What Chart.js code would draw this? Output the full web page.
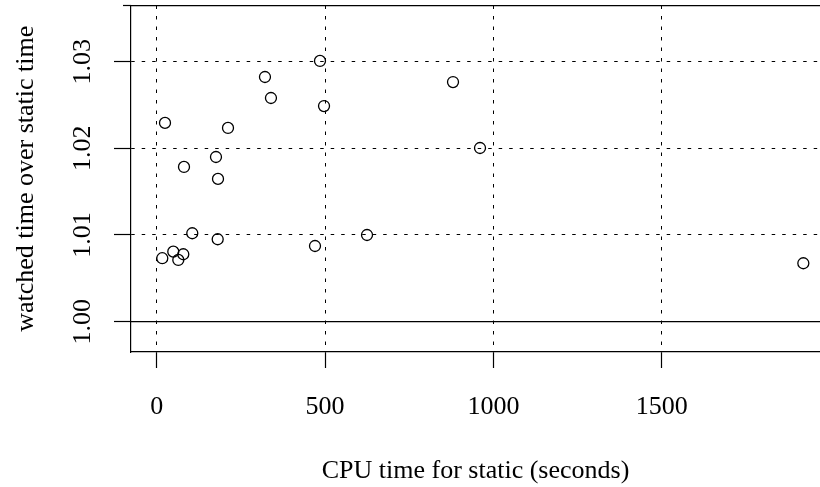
<!DOCTYPE html>
<html>
<head>
<meta charset="utf-8">
<script src="https://cdn.jsdelivr.net/npm/chart.js@4/dist/chart.umd.min.js"></script>
<style>
html,body{margin:0;padding:0;background:#fff}
canvas{display:block}
</style>
</head>
<body>
<canvas id="c" width="820" height="487"></canvas>
<script>
// ---- data ----
const cpuTime = [24.7, 211.8, 176.1, 81.1, 182.1, 105.7, 181.2, 16.6, 49.3, 79.0, 64.2,
                 485.0, 321.6, 339.4, 497.0, 624.7, 470.2, 880.1, 960.3, 1920.6];
const ratio   = [1.02293, 1.02235, 1.01900, 1.01785, 1.01647, 1.01020, 1.00951, 1.00732, 1.00808, 1.00778, 1.00712,
                 1.03008, 1.02823, 1.02581, 1.02488, 1.01000, 1.00873, 1.02765, 1.02004, 1.00674];
const xTicks = [0, 500, 1000, 1500];
const yTicks = [1.00, 1.01, 1.02, 1.03];
const refLevel = 1.0;
const xRange = [-76.3, 1970.1];
const yRange = [0.99650, 1.03648];
const xTitle = 'CPU time for static (seconds)';
const yTitle = 'watched time over static time';

// ---- chart ----
const points = cpuTime.map((x, i) => ({x: x, y: ratio[i]}));
const FONT = {family: '"Liberation Serif", "Times New Roman", serif', size: 26};
const INK = '#000';

const topStub = {
  id: 'topStub',
  afterDraw(chart) {
    const {ctx, chartArea: a} = chart;
    ctx.save();
    ctx.strokeStyle = INK;
    ctx.lineWidth = 1.2;
    ctx.beginPath();
    ctx.moveTo(a.left - 8, a.top);
    ctx.lineTo(a.left, a.top);
    ctx.stroke();
    ctx.restore();
  }
};

new Chart(document.getElementById('c'), {
  type: 'scatter',
  data: {
    datasets: [
      {
        type: 'line',
        showLine: true,
        data: [{x: xRange[0], y: refLevel}, {x: xRange[1], y: refLevel}],
        borderColor: INK,
        borderWidth: 1.2,
        pointRadius: 0,
        fill: false,
        order: 2
      },
      {
        data: points,
        pointStyle: 'circle',
        pointRadius: 5.5,
        borderWidth: 1.3,
        borderColor: INK,
        backgroundColor: 'rgba(0,0,0,0)',
        order: 1
      }
    ]
  },
  options: {
    responsive: false,
    animation: false,
    events: [],
    layout: {autoPadding: false, padding: {top: 5.5, left: 0, right: 0, bottom: 0}},
    plugins: {legend: {display: false}, tooltip: {enabled: false}},
    scales: {
      x: {
        type: 'linear',
        position: 'bottom',
        min: xRange[0],
        max: xRange[1],
        afterBuildTicks: s => { s.ticks = xTicks.map(v => ({value: v})); },
        afterFit: s => { s.height = 135; s.paddingLeft = 0; s.paddingRight = 0; },
        ticks: {autoSkip: false, maxRotation: 0, minRotation: 0, padding: 23.6, color: INK, font: FONT,
                callback: v => String(v)},
        grid: {color: INK, lineWidth: 1, drawTicks: true, tickLength: 16, tickColor: INK, tickWidth: 1.2, tickBorderDash: []},
        border: {display: true, color: INK, width: 1.2, dash: [3.5, 7]},
        title: {display: true, text: xTitle, color: INK, font: FONT, padding: {top: 0, bottom: 0}}
      },
      x2: {
        type: 'linear',
        position: 'top',
        min: xRange[0],
        max: xRange[1],
        afterFit: s => { s.height = 0; s.paddingLeft = 0; s.paddingRight = 0; },
        ticks: {display: false},
        grid: {display: false, drawTicks: false},
        border: {display: true, color: INK, width: 1.2}
      },
      y: {
        type: 'linear',
        position: 'left',
        min: yRange[0],
        max: yRange[1],
        afterBuildTicks: s => { s.ticks = yTicks.map(v => ({value: v})); },
        afterFit: s => { s.width = 131; s.paddingTop = 0; s.paddingBottom = 0; },
        ticks: {autoSkip: false, minRotation: 90, maxRotation: 90, crossAlign: 'center', padding: 8.25,
                color: INK, font: FONT, callback: v => Number(v).toFixed(2)},
        grid: {color: INK, lineWidth: 1, drawTicks: true, tickLength: 17, tickColor: INK, tickWidth: 1.2, tickBorderDash: []},
        border: {display: true, color: INK, width: 1.2, dash: [3.5, 7]},
        title: {display: true, text: yTitle, color: INK, font: FONT, padding: {top: 10.6, bottom: 0}}
      }
    }
  },
  plugins: [topStub]
});
</script>
</body>
</html>
